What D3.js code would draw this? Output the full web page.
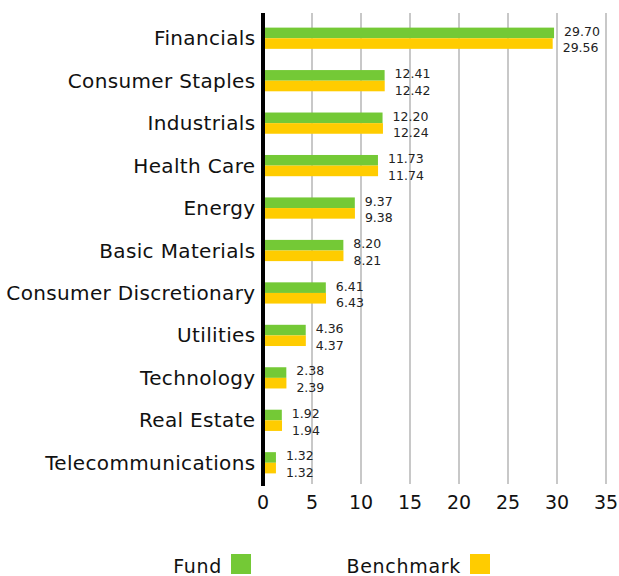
<!DOCTYPE html>
<html><head><meta charset="utf-8">
<script src="https://cdn.jsdelivr.net/npm/d3@7"></script>
<style>body{margin:0;background:#fff}svg{display:block}</style>
</head><body>
<svg id="c" width="619" height="576"></svg>
<script>
const categories = ["Financials","Consumer Staples","Industrials","Health Care","Energy","Basic Materials","Consumer Discretionary","Utilities","Technology","Real Estate","Telecommunications"];
const fund = [29.70,12.41,12.20,11.73,9.37,8.20,6.41,4.36,2.38,1.92,1.32];
const benchmark = [29.56,12.42,12.24,11.74,9.38,8.21,6.43,4.37,2.39,1.94,1.32];
const ticks = [0,5,10,15,20,25,30,35];
const seriesNames = ["Fund","Benchmark"];
const colors = ["#74c936","#ffcc00"];

const font = "'DejaVu Sans', sans-serif";
const svg = d3.select("#c");
const x = d3.scaleLinear().domain([0,35]).range([263,606]);
const y = d3.scaleBand().domain(categories).range([17,484]).paddingInner(0.5).paddingOuter(0.25);
const sub = d3.scaleBand().domain([0,1]).range([0,y.bandwidth()]);

// gridlines
svg.append("g").selectAll("line").data(ticks.slice(1)).join("line")
  .attr("x1",d=>x(d)).attr("x2",d=>x(d)).attr("y1",13).attr("y2",484)
  .attr("stroke","#c8c8c8").attr("stroke-width",2);

// bars
const g = svg.append("g");
categories.forEach((c,i)=>{
  [fund[i],benchmark[i]].forEach((v,j)=>{
    g.append("rect").attr("x",x(0)).attr("y",y(c)+sub(j))
      .attr("width",x(v)-x(0)).attr("height",sub.bandwidth()).attr("fill",colors[j]);
    g.append("text").attr("x",x(v)+10)
      .attr("y",y(c)+sub(j)+sub.bandwidth()/2 + (j===0?-1.5:4.5))
      .attr("dy","0.35em").attr("font-family",font).attr("font-size",12.5)
      .attr("fill","#222").text(v.toFixed(2));
  });
});

// axis line
svg.append("line").attr("x1",x(0)).attr("x2",x(0)).attr("y1",13).attr("y2",486)
  .attr("stroke","#000").attr("stroke-width",4);

// category labels
svg.append("g").selectAll("text").data(categories).join("text")
  .attr("x",255.5).attr("y",d=>y(d)+y.bandwidth()/2).attr("dy","0.35em")
  .attr("text-anchor","end").attr("font-family",font).attr("font-size",20)
  .attr("letter-spacing","0.35px")
  .attr("fill","#111").text(d=>d);

// tick labels
svg.append("g").selectAll("text").data(ticks).join("text")
  .attr("x",d=>x(d)).attr("y",502).attr("dy","0.35em").attr("text-anchor","middle")
  .attr("font-family",font).attr("font-size",19).attr("fill","#111").text(d=>d);

// legend
const legX = [222,461];
seriesNames.forEach((n,i)=>{
  svg.append("text").attr("x",legX[i]).attr("y",566).attr("dy","0.35em")
    .attr("text-anchor","end").attr("font-family",font).attr("font-size",19)
    .attr("letter-spacing","0.7px")
    .attr("fill","#111").text(n);
  svg.append("rect").attr("x",legX[i]+9).attr("y",554).attr("width",20).attr("height",20)
    .attr("fill",colors[i]);
});
</script>
</body></html>
